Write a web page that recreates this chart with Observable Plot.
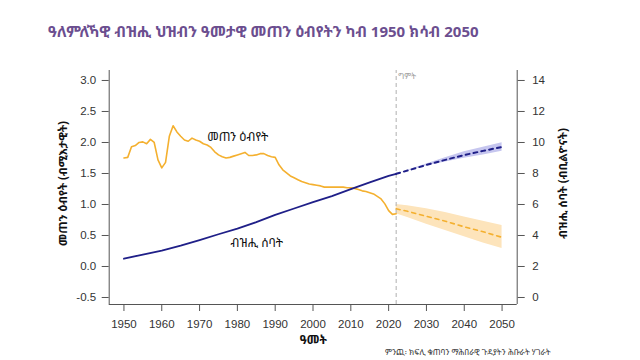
<!DOCTYPE html>
<html>
<head>
<meta charset="utf-8">
<script src="https://cdn.jsdelivr.net/npm/d3@7"></script>
<script src="https://cdn.jsdelivr.net/npm/@observablehq/plot@0.6"></script>
<style>
  html, body { margin:0; padding:0; background:#fff; }
  #wrap { position:relative; width:640px; height:360px; font-family:"Noto Sans Ethiopic","Abyssinica SIL","Noto Sans","DejaVu Sans",sans-serif; }
  #title { position:absolute; left:48px; top:21px; font-size:15px; font-weight:bold; color:#6b4e8f; white-space:nowrap; }
  #caption { position:absolute; left:385px; top:346px; font-size:8px; color:#333; white-space:nowrap; }
  #chart { position:absolute; left:0; top:0; }
</style>
</head>
<body>
<div id="wrap">
  <div id="chart"></div>
  <div id="title">ዓለምለኻዊ ብዝሒ ህዝብን ዓመታዊ መጠን ዕብየትን ካብ 1950 ክሳብ 2050</div>
  <div id="caption">ምንጪ፡ ክፍሊ ቁጠባን ማሕበራዊ ጉዳያትን ሕቡራት ሃገራት</div>
</div>
<script>
// Annual growth rate (%) — estimates 1950–2022
const growthYears = [1950,1951,1952,1953,1954,1955,1956,1957,1958,1959,1960,1961,1962,1963,1964,1965,1966,1967,1968,1969,1970,1971,1972,1973,1974,1975,1976,1977,1978,1979,1980,1981,1982,1983,1984,1985,1986,1987,1988,1989,1990,1991,1992,1993,1994,1995,1996,1997,1998,1999,2000,2001,2002,2003,2004,2005,2006,2007,2008,2009,2010,2011,2012,2013,2014,2015,2016,2017,2018,2019,2020,2021,2022];
const growthValues = [1.75,1.76,1.93,1.95,2.00,2.01,1.98,2.05,2.00,1.72,1.59,1.68,2.10,2.27,2.17,2.10,2.04,2.02,2.07,2.04,2.02,1.98,1.96,1.92,1.85,1.80,1.77,1.75,1.76,1.78,1.80,1.82,1.84,1.79,1.79,1.80,1.82,1.82,1.79,1.77,1.76,1.64,1.56,1.51,1.46,1.43,1.40,1.37,1.35,1.33,1.32,1.31,1.30,1.28,1.28,1.28,1.28,1.28,1.28,1.27,1.27,1.26,1.24,1.22,1.21,1.19,1.17,1.13,1.09,1.01,0.90,0.84,0.85];

// Growth rate projection (%) with interval
const projYears = [2022,2025,2030,2035,2040,2045,2050];
const growthProj = [0.93,0.89,0.81,0.73,0.64,0.56,0.47];
const growthLo = [0.85,0.79,0.68,0.58,0.48,0.38,0.29];
const growthHi = [1.00,0.98,0.93,0.87,0.80,0.73,0.66];

// Population (billions)
const popYears = [1950,1955,1960,1965,1970,1975,1980,1985,1990,1995,2000,2005,2010,2015,2020,2022];
const popValues = [2.50,2.77,3.02,3.34,3.70,4.08,4.44,4.86,5.33,5.74,6.15,6.54,6.99,7.43,7.84,7.98];
const popProj = [7.98,8.19,8.55,8.88,9.19,9.46,9.71];
const popLo = [7.98,8.17,8.48,8.74,8.98,9.20,9.44];
const popHi = [7.98,8.21,8.62,9.02,9.40,9.70,9.98];

// Ticks
const xTicks = [1950,1960,1970,1980,1990,2000,2010,2020,2030,2040,2050];
const leftTicks = [-0.5,0,0.5,1,1.5,2,2.5,3];
const rightTicks = [0,2,4,6,8,10,12,14];

const estimateYear = 2022;
const labels = {
  title: "ዓለምለኻዊ ብዝሒ ህዝብን ዓመታዊ መጠን ዕብየትን ካብ 1950 ክሳብ 2050",
  yLeft: "መጠን ዕብየት (ብሚእታዊት)",
  yRight: "ብዝሒ ሰባት (ብቢልዮናት)",
  x: "ዓመት",
  growth: "መጠን ዕብየት",
  pop: "ብዝሒ ሰባት",
  estimate: "ግምት"
};

// Right axis (population) maps linearly onto left axis: 0 → -0.5, 14 → 3.0
const toLeft = p => p / 4 - 0.5;

const growth = growthYears.map((y, i) => ({year: y, v: growthValues[i]}));
const gProj = projYears.map((y, i) => ({year: y, v: growthProj[i], lo: growthLo[i], hi: growthHi[i]}));
const pop = popYears.map((y, i) => ({year: y, v: popValues[i]}));
const pProj = projYears.map((y, i) => ({year: y, v: popProj[i], lo: popLo[i], hi: popHi[i]}));

const xDom = [1946.1, 2054.0];
const yDom = [-0.613, 3.161];
const orange = "#f4b02f";
const navy = "#1f1f88";
const axisColor = "#555";
const ff = "'Noto Sans Ethiopic','Abyssinica SIL','Noto Sans','DejaVu Sans',sans-serif";
const tickFont = "'Liberation Sans', Arial, sans-serif";

const chart = Plot.plot({
  width: 640,
  height: 360,
  marginLeft: 108.7,
  marginRight: 123.3,
  marginTop: 70,
  marginBottom: 56,
  style: {fontFamily: tickFont, color: "#333", background: "transparent"},
  x: {domain: xDom},
  y: {domain: yDom},
  marks: [
    Plot.areaY(pProj, {x: "year", y1: d => toLeft(d.lo), y2: d => toLeft(d.hi), fill: "#c6c6ef"}),
    Plot.areaY(gProj, {x: "year", y1: "lo", y2: "hi", fill: "#fde4bb"}),
    Plot.ruleX([estimateYear], {y1: yDom[0], y2: yDom[1], stroke: "#bdbdbd", strokeWidth: 1.2, strokeDasharray: "4,3"}),
    Plot.text([labels.estimate], {x: estimateYear, y: yDom[1], dx: 2, dy: 6, textAnchor: "start", fontSize: 8, fill: "#999", fontFamily: ff}),
    Plot.line(growth, {x: "year", y: "v", stroke: orange, strokeWidth: 1.6}),
    Plot.line(gProj, {x: "year", y: "v", stroke: orange, strokeWidth: 1.6, strokeDasharray: "4,4"}),
    Plot.line(pop, {x: "year", y: d => toLeft(d.v), stroke: navy, strokeWidth: 1.8}),
    Plot.line(pProj, {x: "year", y: d => toLeft(d.v), stroke: navy, strokeWidth: 2, strokeDasharray: "4,4"}),
    Plot.text([labels.growth], {x: 1972, y: 2.08, textAnchor: "start", fontSize: 12, fill: "#111", fontFamily: ff}),
    Plot.text([labels.pop], {x: 1978.2, y: 0.37, textAnchor: "start", fontSize: 12, fill: "#111", fontFamily: ff}),
    // axis lines (open-top box)
    Plot.ruleX([xDom[0], xDom[1]], {y1: yDom[0], y2: yDom[1], stroke: axisColor}),
    Plot.ruleY([yDom[0]], {x1: xDom[0], x2: xDom[1], stroke: axisColor}),
    Plot.axisX({ticks: xTicks, tickFormat: d => String(d), tickSize: 7, tickPadding: 8, stroke: axisColor, fontSize: 11.5, label: null}),
    Plot.axisY({anchor: "left", ticks: leftTicks, tickFormat: d => d.toFixed(1), tickSize: 7, tickPadding: 6, stroke: axisColor, fontSize: 11.5, label: null}),
    Plot.axisY({anchor: "right", ticks: rightTicks.map(toLeft), tickFormat: d => String(Math.round((d + 0.5) * 4)), tickSize: 7, tickPadding: 8, stroke: axisColor, fontSize: 11.5, label: null}),
    Plot.text([labels.yLeft], {frameAnchor: "left", textAnchor: "middle", lineAnchor: "middle", dx: -46, dy: -4, rotate: -90, fontSize: 11.5, fontWeight: "bold", fill: "#111", fontFamily: ff}),
    Plot.text([labels.yRight], {frameAnchor: "right", textAnchor: "middle", lineAnchor: "middle", dx: 46, dy: -4, rotate: -90, fontSize: 11.5, fontWeight: "bold", fill: "#111", fontFamily: ff}),
    Plot.text([labels.x], {frameAnchor: "bottom", lineAnchor: "middle", dy: 36, fontSize: 12, fontWeight: "bold", fill: "#111", fontFamily: ff})
  ]
});
document.getElementById("chart").appendChild(chart);
</script>
</body>
</html>
